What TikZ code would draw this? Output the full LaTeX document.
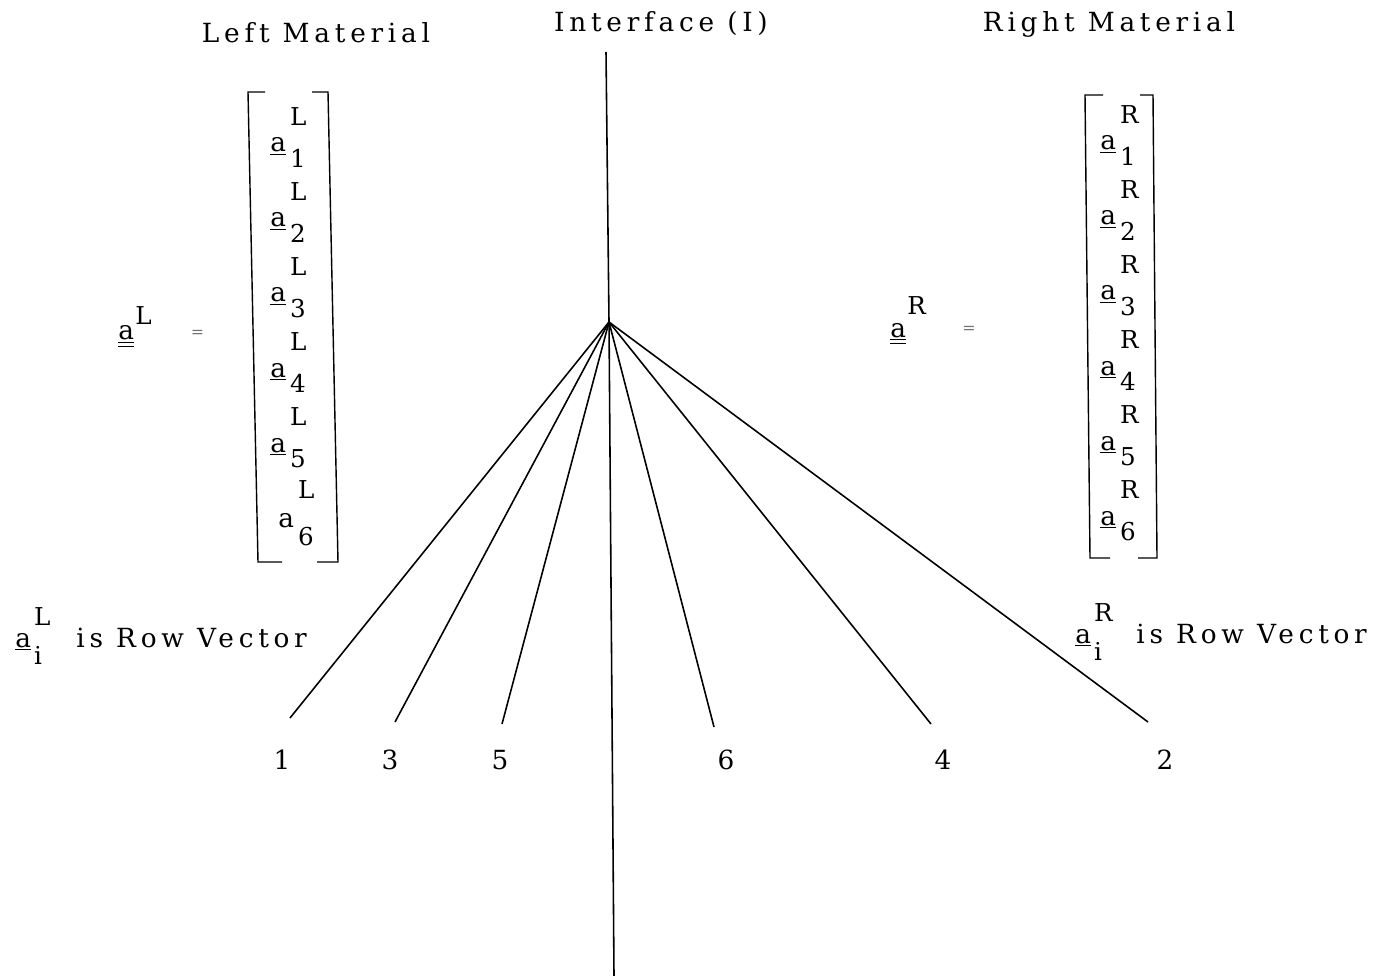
\documentclass[tikz,border=0pt]{standalone}
\usepackage{fontspec}
\setmainfont{DejaVu Serif}[LetterSpace=18]
\usepackage{tikz}
\usetikzlibrary{positioning}
\newcommand{\smallsup}{\fontsize{14}{16}\selectfont}
% a con apice e pedice sfalsati
\newcommand{\avec}[2]{\underline{a}\hspace{0.15em}\rlap{\raisebox{1.0em}{\smallsup #1}}\raisebox{-0.6em}{\smallsup #2}}
\newcommand{\abare}[2]{a\hspace{0.15em}\rlap{\raisebox{1.1em}{\smallsup #1}}\raisebox{-0.7em}{\smallsup #2}}
\newcommand{\arow}[2]{\underline{a}\hspace{0.12em}\rlap{\raisebox{0.8em}{\smallsup #1}}\raisebox{-0.65em}{\smallsup #2}}
\newcommand{\amat}[2]{\underline{\underline{a}}\hspace{0.05em}\raisebox{#2}{\smallsup #1}}

\begin{document}
\begin{tikzpicture}
  \useasboundingbox (0,0) rectangle (27.86,-19.52);
  \tikzset{txt/.style={font=\fontsize{15}{18}\selectfont, inner sep=0pt},
    ray/.style={line width=0.9pt},
    brack/.style={line width=0.8pt}}
  % titoli
  \node[txt, anchor=base] (lt) at (6.32,-0.86) {Left Material};
  \node[txt, anchor=base] (it) at (13.22,-0.64) {Interface (I)};
  \node[txt, anchor=base] (rt) at (22.18,-0.64) {Right Material};
  % interfaccia
  \coordinate (top) at (12.12,-1.04);
  \coordinate (I) at (12.18,-6.44);
  \coordinate (bot) at (12.28,-19.52);
  \draw[ray] (top) -- (I) -- (bot);
  % raggi
  \coordinate (e1) at (5.80,-14.36);
  \coordinate (e3) at (7.90,-14.44);
  \coordinate (e5) at (10.04,-14.48);
  \coordinate (e6) at (14.28,-14.54);
  \coordinate (e4) at (18.62,-14.48);
  \coordinate (e2) at (22.96,-14.44);
  \foreach \k in {1,3,5,6,4,2} \draw[ray] (I) -- (e\k);
  \node[txt] (n1) at (5.64,-15.2) {1};
  \node[txt] (n3) at (7.80,-15.2) {3};
  \node[txt] (n5) at (10.0,-15.2) {5};
  \node[txt] (n6) at (14.52,-15.2) {6};
  \node[txt] (n4) at (18.86,-15.2) {4};
  \node[txt] (n2) at (23.30,-15.2) {2};
  % matrice sinistra
  \foreach \k [evaluate=\k as \y using -3.04-1.5*(\k-1)] in {1,...,5}
    \node[txt, anchor=base west] (l\k) at (5.40,\y) {\avec{L}{\k}};
  \node[txt, anchor=base west] (l6) at (5.56,-10.54) {\abare{L}{6}};
  \draw[brack] (5.30,-1.84) -- (4.96,-1.84) -- (5.16,-11.24) -- (5.64,-11.24);
  \draw[brack] (6.24,-1.84) -- (6.56,-1.84) -- (6.76,-11.24) -- (6.34,-11.24);
  \node[txt, anchor=base west] (aL) at (2.36,-6.80) {\amat{L}{0.6em}};
  \node[txt, anchor=center, font=\fontsize{9}{10}\selectfont, text=black!55] (eqL) at (3.95,-6.67) {=};
  % matrice destra
  \foreach \k [evaluate=\k as \y using -3.0-1.5*(\k-1)] in {1,...,6}
    \node[txt, anchor=base west] (r\k) at (22.0,\y) {\avec{R}{\k}};
  \draw[brack] (22.06,-1.90) -- (21.70,-1.90) -- (21.80,-11.16) -- (22.20,-11.16);
  \draw[brack] (22.80,-1.90) -- (23.06,-1.90) -- (23.14,-11.16) -- (22.76,-11.16);
  \node[txt, anchor=base west] (aR) at (17.80,-6.74) {\amat{R}{0.85em}};
  \node[txt, anchor=center, font=\fontsize{9}{10}\selectfont, text=black!55] (eqR) at (19.38,-6.60) {=};
  % vettori riga
  \node[txt, anchor=base west] (rvL) at (0.30,-12.94) {\arow{L}{i}\hspace{1.3em}is Row Vector};
  \node[txt, anchor=base west] (rvR) at (21.50,-12.86) {\arow{R}{i}\hspace{1.3em}is Row Vector};
\end{tikzpicture}
\end{document}
